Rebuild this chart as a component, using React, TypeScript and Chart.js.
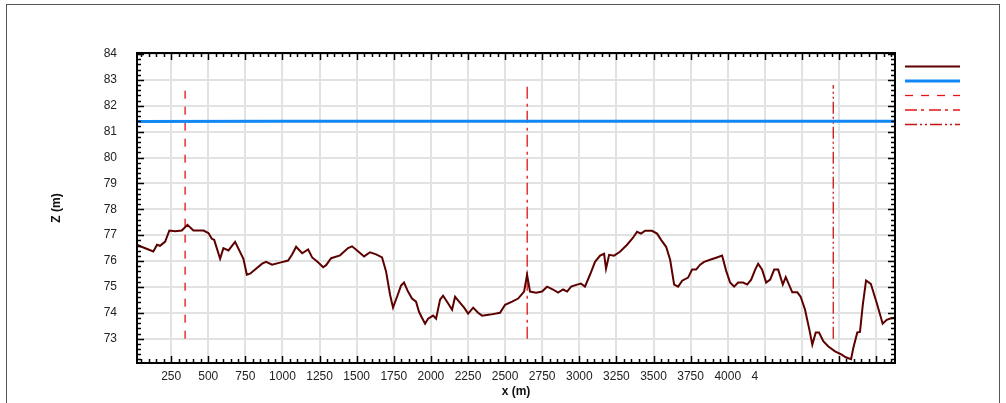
import React, { useEffect, useRef } from 'react';
import { Chart, registerables } from 'chart.js';

Chart.register(...registerables);

// ---- data ----
const profileX = [
  20, 30, 130, 155, 175, 210, 238, 277, 322, 360, 400, 468, 501, 524, 540, 580, 602, 636, 681, 737,
  760, 782, 863, 890, 930, 984, 1038, 1065, 1092, 1133, 1173, 1200, 1240, 1274, 1294, 1328, 1388, 1442, 1469, 1509,
  1550, 1590, 1631, 1671, 1698, 1725, 1745, 1772, 1799, 1819, 1846, 1873, 1900, 1920, 1940, 1961, 1981, 2015, 2035, 2062,
  2082, 2109, 2143, 2163, 2190, 2224, 2251, 2285, 2318, 2345, 2399, 2466, 2500, 2547, 2588, 2628, 2648, 2668, 2709, 2749,
  2783, 2823, 2857, 2891, 2918, 2945, 2985, 3011, 3038, 3072, 3106, 3140, 3167, 3180, 3201, 3234, 3274, 3322, 3362, 3389,
  3416, 3443, 3490, 3524, 3551, 3585, 3612, 3639, 3666, 3693, 3733, 3760, 3787, 3814, 3841, 3881, 3922, 3962, 3989, 4016,
  4043, 4070, 4104, 4131, 4158, 4185, 4205, 4232, 4259, 4286, 4313, 4340, 4371, 4391, 4435, 4469, 4492, 4521, 4550, 4570,
  4593, 4615, 4644, 4678, 4723, 4768, 4795, 4831, 4846, 4873, 4891, 4910, 4932, 4964, 5004, 5044, 5071, 5105, 5127,
];
const profileZ = [
  76.65, 76.6, 76.37, 76.63, 76.59, 76.75, 77.18, 77.15, 77.18, 77.4, 77.18, 77.18, 77.08, 76.86, 76.82, 76.09, 76.5, 76.41, 76.74, 76.09,
  75.47, 75.51, 75.9, 75.97, 75.86, 75.94, 76.02, 76.25, 76.55, 76.3, 76.45, 76.14, 75.95, 75.76, 75.84, 76.11, 76.22, 76.5, 76.57, 76.38,
  76.18, 76.34, 76.26, 76.14, 75.6, 74.7, 74.2, 74.62, 75.05, 75.17, 74.82, 74.55, 74.43, 74.04, 73.81, 73.58, 73.77, 73.89, 73.77, 74.51,
  74.66, 74.43, 74.12, 74.62, 74.43, 74.2, 73.97, 74.2, 74.0, 73.89, 73.93, 74.0, 74.31, 74.43, 74.55, 74.82, 75.47, 74.82, 74.78, 74.82,
  75.01, 74.9, 74.78, 74.9, 74.82, 75.01, 75.09, 75.13, 75.01, 75.47, 75.97, 76.21, 76.28, 75.7, 76.24, 76.21, 76.36, 76.63, 76.9, 77.13,
  77.06, 77.17, 77.17, 77.06, 76.82, 76.55, 76.05, 75.09, 75.01, 75.24, 75.36, 75.67, 75.67, 75.86, 75.97, 76.05, 76.13, 76.21, 75.63, 75.17,
  75.01, 75.17, 75.17, 75.09, 75.28, 75.67, 75.9, 75.67, 75.17, 75.28, 75.67, 75.67, 75.09, 75.38, 74.79, 74.79, 74.61, 74.12, 73.35, 72.77,
  73.24, 73.24, 72.9, 72.7, 72.51, 72.38, 72.28, 72.21, 72.64, 73.24, 73.26, 74.31, 75.25, 75.12, 74.38, 73.58, 73.73, 73.8, 73.81,
];
const waterX = [20, 1000, 2000, 3000, 4000, 5127];
const waterZ = [81.39, 81.4, 81.4, 81.4, 81.4, 81.4];
const mark1X = [344, 344];
const mark1Z = [73.0, 82.7];
const mark2X = [2649, 2649];
const mark2Z = [73.0, 82.8];
const mark3X = [4711, 4711];
const mark3Z = [73.0, 82.8];

const xTickValues = [250, 500, 750, 1000, 1250, 1500, 1750, 2000, 2250, 2500, 2750, 3000, 3250, 3500, 3750, 4000, 4250, 4500, 4750, 5000];
const xTickLabels = ['250', '500', '750', '1000', '1250', '1500', '1750', '2000', '2250', '2500', '2750', '3000', '3250', '3500', '3750', '4000', '4\u2007\u2007\u2007', '', '', ''];
const yTickValues = [73, 74, 75, 76, 77, 78, 79, 80, 81, 82, 83, 84];
const X_MIN = 20;
const X_MAX = 5127;
const Y_MIN = 72.06;
const Y_MAX = 84.04;
const X_MINOR_STEP = 50;
const Y_MINOR_STEP = 0.2;
const xTitle = 'x (m)';
const yTitle = 'Z (m)';

const toPts = (xs: number[], ys: number[]) => xs.map((x, i) => ({ x, y: ys[i] }));

const FONT = '"Liberation Sans", Arial, Helvetica, sans-serif';

const framePlugin = {
  id: 'framePlugin',
  afterDatasetsDraw(chart: any) {
    const ctx = chart.ctx;
    const { left, right, top, bottom } = chart.chartArea;
    const xs = chart.scales.x;
    const ys = chart.scales.y;
    ctx.save();
    ctx.strokeStyle = '#000';
    ctx.lineWidth = 1.5;
    ctx.beginPath();
    // x ticks (inside, top and bottom)
    for (let v = Math.ceil(X_MIN / X_MINOR_STEP) * X_MINOR_STEP; v <= X_MAX; v += X_MINOR_STEP) {
      const px = Math.round(xs.getPixelForValue(v)) + 0.5;
      const major = v % 250 === 0;
      const len = major ? 7 : 4;
      ctx.moveTo(px, bottom);
      ctx.lineTo(px, bottom - len);
      ctx.moveTo(px, top);
      ctx.lineTo(px, top + len);
    }
    // y ticks (inside, left and right)
    const nY = Math.round((Y_MAX - 72) / Y_MINOR_STEP);
    for (let i = 1; i <= nY; i++) {
      const v = 72 + i * Y_MINOR_STEP;
      if (v < Y_MIN || v > Y_MAX) continue;
      const py = Math.round(ys.getPixelForValue(v)) + 0.5;
      const major = Math.abs(v - Math.round(v)) < 1e-6;
      const len = major ? 7 : 4;
      ctx.moveTo(left, py);
      ctx.lineTo(left + len, py);
      ctx.moveTo(right, py);
      ctx.lineTo(right - len, py);
    }
    ctx.stroke();
    ctx.lineWidth = 2;
    ctx.strokeRect(left, top, right - left, bottom - top);
    ctx.restore();
  },
  afterDraw(chart: any) {
    const ctx = chart.ctx;
    const { left, right, top, bottom } = chart.chartArea;
    ctx.save();
    // outer figure border
    ctx.strokeStyle = '#555';
    ctx.lineWidth = 1;
    ctx.strokeRect(6.5, 4.5, 993, 420);
    // axis titles
    ctx.fillStyle = '#111';
    ctx.font = 'bold 12px ' + FONT;
    ctx.textAlign = 'center';
    ctx.textBaseline = 'middle';
    ctx.fillText(xTitle, (left + right) / 2, 392);
    ctx.translate(57, (top + bottom) / 2);
    ctx.rotate(-Math.PI / 2);
    ctx.fillText(yTitle, 0, 0);
    ctx.restore();
    // legend (line samples only)
    ctx.save();
    const ly = [66.5, 81, 95.5, 110, 124.5];
    chart.data.datasets.forEach((ds: any, i: number) => {
      ctx.beginPath();
      ctx.strokeStyle = ds.borderColor;
      ctx.lineWidth = ds.borderWidth;
      ctx.setLineDash(ds.borderDash || []);
      ctx.moveTo(905, ly[i]);
      ctx.lineTo(960, ly[i]);
      ctx.stroke();
    });
    ctx.restore();
  },
};

export default function App() {
  const ref = useRef<HTMLCanvasElement>(null);
  useEffect(() => {
    document.body.style.margin = '0';
    const canvas = ref.current!;
    const chart = new Chart(canvas, {
      type: 'scatter',
      data: {
        datasets: [
          {
            label: 'profile',
            data: toPts(profileX, profileZ),
            showLine: true,
            borderColor: '#5c0000',
            backgroundColor: '#5c0000',
            borderWidth: 2,
            pointRadius: 0,
            tension: 0,
          },
          {
            label: 'water',
            data: toPts(waterX, waterZ),
            showLine: true,
            borderColor: 'rgb(18,136,245)',
            backgroundColor: 'rgb(18,136,245)',
            borderWidth: 3,
            pointRadius: 0,
          },
          {
            label: 'm1',
            data: toPts(mark1X, mark1Z),
            showLine: true,
            borderColor: 'rgb(228,20,20)',
            backgroundColor: 'rgb(228,20,20)',
            borderWidth: 1.3,
            borderDash: [8, 8],
            pointRadius: 0,
          },
          {
            label: 'm2',
            data: toPts(mark2X, mark2Z),
            showLine: true,
            borderColor: 'rgb(228,20,20)',
            backgroundColor: 'rgb(228,20,20)',
            borderWidth: 1.3,
            borderDash: [12, 4, 3, 5],
            pointRadius: 0,
          },
          {
            label: 'm3',
            data: toPts(mark3X, mark3Z),
            showLine: true,
            borderColor: 'rgb(200,20,20)',
            backgroundColor: 'rgb(200,20,20)',
            borderWidth: 1.3,
            borderDash: [12, 3, 2, 3, 2, 3],
            pointRadius: 0,
          },
        ],
      },
      options: {
        animation: false,
        responsive: false,
        devicePixelRatio: 1,
        layout: { padding: { top: 53, right: 111, left: 0, bottom: 0 } },
        plugins: { legend: { display: false }, tooltip: { enabled: false }, title: { display: false } },
        scales: {
          x: {
            type: 'linear',
            min: X_MIN,
            max: X_MAX,
            bounds: 'data',
            afterBuildTicks: (s: any) => {
              s.ticks = xTickValues.map((v) => ({ value: v }));
            },
            afterFit: (s: any) => {
              s.height = 40;
            },
            border: { display: false },
            grid: { color: '#e2e2e2', lineWidth: 2, drawTicks: false },
            ticks: {
              autoSkip: false,
              maxRotation: 0,
              padding: 6,
              color: '#222',
              font: { family: FONT, size: 12 },
              callback: (v: any) => {
                const i = xTickValues.indexOf(Number(v));
                return i >= 0 ? xTickLabels[i] : '';
              },
            },
          },
          y: {
            type: 'linear',
            min: Y_MIN,
            max: Y_MAX,
            bounds: 'data',
            afterBuildTicks: (s: any) => {
              s.ticks = yTickValues.map((v) => ({ value: v }));
            },
            afterFit: (s: any) => {
              s.width = 137;
            },
            border: { display: false },
            grid: { color: '#e2e2e2', lineWidth: 2, drawTicks: false },
            ticks: {
              autoSkip: false,
              padding: 20,
              color: '#222',
              font: { family: FONT, size: 12 },
              callback: (v: any) => String(v),
            },
          },
        },
      },
      plugins: [framePlugin],
    } as any);
    return () => chart.destroy();
  }, []);
  return (
    <canvas ref={ref} width={1006} height={403} style={{ display: 'block', width: 1006, height: 403 }} />
  );
}
